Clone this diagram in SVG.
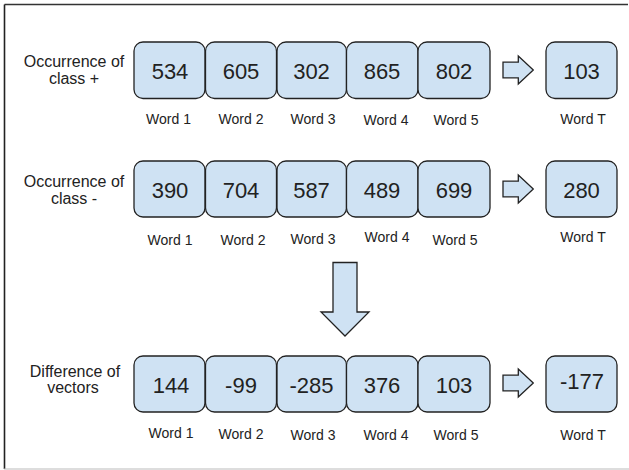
<svg xmlns="http://www.w3.org/2000/svg" width="629" height="470" viewBox="0 0 629 470">
<style>
.bx{fill:#cfe2f3;stroke:#222;stroke-width:1.3}
.ar{fill:#cfe2f3;stroke:#222;stroke-width:1.3;stroke-linejoin:miter}
.num{font-family:"Liberation Sans",Arial,sans-serif;font-size:22px;fill:#222;text-anchor:middle}
.wd{font-family:"Liberation Sans",Arial,sans-serif;font-size:14px;fill:#222;text-anchor:middle}
.lb{font-family:"Liberation Sans",Arial,sans-serif;font-size:16px;fill:#222;text-anchor:middle}
</style>
<rect x="0" y="0" width="629" height="470" fill="#fff"/>
<g id="frame">
<line x1="4.5" y1="4.5" x2="628" y2="4.5" stroke="#333" stroke-width="1.5"/>
<line x1="4.5" y1="4.5" x2="4.5" y2="469" stroke="#222" stroke-width="1.6"/>
<line x1="4" y1="469" x2="629" y2="469" stroke="#bbb" stroke-width="1.2"/>
</g>
<g id="row1">
<g id="label1"><text class="lb" x="74" y="67">Occurrence of</text><text class="lb" x="74" y="83.5">class +</text></g>
<g id="r1w1"><rect class="bx" x="134" y="42" width="71" height="56.5" rx="9"/><text class="num" x="170" y="79">534</text><text class="wd" x="168.5" y="124">Word 1</text></g>
<g id="r1w2"><rect class="bx" x="205.5" y="42" width="71" height="56.5" rx="9"/><text class="num" x="241" y="79">605</text><text class="wd" x="241" y="124">Word 2</text></g>
<g id="r1w3"><rect class="bx" x="277" y="42" width="69.5" height="56.5" rx="9"/><text class="num" x="311.5" y="79">302</text><text class="wd" x="313" y="124">Word 3</text></g>
<g id="r1w4"><rect class="bx" x="346.5" y="42" width="71.5" height="56.5" rx="9"/><text class="num" x="382" y="79">865</text><text class="wd" x="386" y="125">Word 4</text></g>
<g id="r1w5"><rect class="bx" x="418" y="42" width="72" height="56.5" rx="9"/><text class="num" x="454" y="79">802</text><text class="wd" x="456" y="125">Word 5</text></g>
<g id="r1wT"><rect class="bx" x="546" y="42" width="71" height="56.5" rx="9"/><text class="num" x="581.5" y="79">103</text><text class="wd" x="583" y="124">Word T</text></g>
</g>
<g id="row2">
<g id="label2"><text class="lb" x="74" y="187">Occurrence of</text><text class="lb" x="74" y="203.5">class -</text></g>
<g id="r2w1"><rect class="bx" x="134" y="161" width="71" height="56" rx="9"/><text class="num" x="170" y="198">390</text><text class="wd" x="170" y="244.5">Word 1</text></g>
<g id="r2w2"><rect class="bx" x="205.5" y="161" width="71" height="56" rx="9"/><text class="num" x="241" y="198">704</text><text class="wd" x="243" y="244.5">Word 2</text></g>
<g id="r2w3"><rect class="bx" x="277" y="161" width="69.5" height="56" rx="9"/><text class="num" x="311.5" y="198">587</text><text class="wd" x="313" y="244">Word 3</text></g>
<g id="r2w4"><rect class="bx" x="346.5" y="161" width="71.5" height="56" rx="9"/><text class="num" x="382" y="198">489</text><text class="wd" x="387" y="241.5">Word 4</text></g>
<g id="r2w5"><rect class="bx" x="418" y="161" width="72" height="56" rx="9"/><text class="num" x="454" y="198">699</text><text class="wd" x="455" y="245">Word 5</text></g>
<g id="r2wT"><rect class="bx" x="546" y="161" width="71" height="56" rx="9"/><text class="num" x="581.5" y="198">280</text><text class="wd" x="583" y="241.5">Word T</text></g>
</g>
<g id="row3">
<g id="label3"><text class="lb" x="75" y="377">Difference of</text><text class="lb" x="73" y="393">vectors</text></g>
<g id="r3w1"><rect class="bx" x="134" y="356" width="71" height="56" rx="9"/><text class="num" x="171" y="393">144</text><text class="wd" x="171" y="437.5">Word 1</text></g>
<g id="r3w2"><rect class="bx" x="205.5" y="356" width="71" height="56" rx="9"/><text class="num" x="241" y="393">-99</text><text class="wd" x="241" y="438.5">Word 2</text></g>
<g id="r3w3"><rect class="bx" x="277" y="356" width="69.5" height="56" rx="9"/><text class="num" x="311.5" y="393">-285</text><text class="wd" x="313" y="440">Word 3</text></g>
<g id="r3w4"><rect class="bx" x="346.5" y="356" width="71.5" height="56" rx="9"/><text class="num" x="382" y="393">376</text><text class="wd" x="386" y="439.5">Word 4</text></g>
<g id="r3w5"><rect class="bx" x="418" y="356" width="72" height="56" rx="9"/><text class="num" x="454" y="393">103</text><text class="wd" x="456" y="440">Word 5</text></g>
<g id="r3wT"><rect class="bx" x="546" y="356" width="71" height="56" rx="9"/><text class="num" x="582" y="389">-177</text><text class="wd" x="583" y="440">Word T</text></g>
</g>
<g id="connectors">
<path class="ar" d="M503,62.2 H518.3 V56 L533.3,70 L518.3,84 V77.8 H503 Z"/>
<path class="ar" d="M503,181.2 H518.3 V175 L533.3,189 L518.3,203 V196.8 H503 Z"/>
<path class="ar" d="M503,375.2 H518.3 V369 L533.3,383 L518.3,397 V390.8 H503 Z"/>
<path class="ar" d="M333,262.5 H357 V312 H369 L345,336 L321,312 H333 Z"/>
</g>
</svg>
